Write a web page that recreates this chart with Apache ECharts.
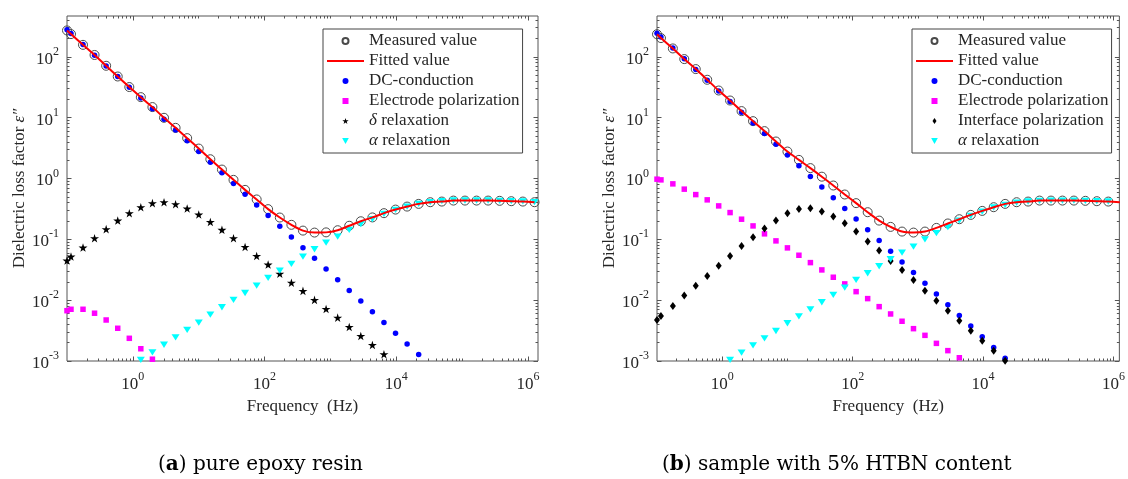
<!DOCTYPE html>
<html lang="en">
<head>
<meta charset="UTF-8">
<title>Dielectric loss factor</title>
<script src="https://cdn.jsdelivr.net/npm/echarts@6/dist/echarts.min.js"></script>
<style>html,body{margin:0;padding:0;background:#fff}</style>
</head>
<body>
<div id="main" style="width:1128px;height:479px;"></div>
<script>
// measurement frequencies (Hz)
var freq = [0.1, 0.115, 0.175, 0.262, 0.393, 0.589, 0.883, 1.32, 1.98, 2.97, 4.45, 6.67, 10, 15, 22.5, 33.7,
    50.5, 75.7, 113, 170, 255, 382, 572, 857, 1285, 1925, 2885, 4325, 6480, 9710, 14550, 21800, 32700, 49000,
    73400, 110000, 165000, 247000, 370000, 555000, 832000, 1250000];

// (a) pure epoxy resin
var measA = [271, 236, 157, 107, 71.1, 47.4, 31.8, 21.7, 14.9, 9.93, 6.79, 4.60, 3.10, 2.07, 1.40, 0.948, 0.649,
    0.452, 0.313, 0.228, 0.173, 0.139, 0.129, 0.130, 0.141, 0.167, 0.198, 0.229, 0.269, 0.308, 0.345, 0.382,
    0.407, 0.417, 0.433, 0.433, 0.433, 0.433, 0.429, 0.423, 0.417, 0.407];
var fitA = [271, 236, 157, 107, 71.1, 47.4, 31.8, 21.7, 14.9, 9.93, 6.79, 4.60, 3.10, 2.07, 1.40, 0.948, 0.649,
    0.452, 0.313, 0.228, 0.173, 0.139, 0.129, 0.130, 0.141, 0.167, 0.198, 0.229, 0.269, 0.308, 0.345, 0.382,
    0.407, 0.417, 0.433, 0.433, 0.433, 0.433, 0.429, 0.423, 0.417, 0.407];
var dcA = [278, 242, 159, 106, 70.7, 47.2, 31.5, 21.1, 14.0, 9.36, 6.25, 4.17, 2.78, 1.85, 1.24, 0.825, 0.550,
    0.367, 0.246, 0.164, 0.109, 0.0728, 0.0486, 0.0324, 0.0216, 0.0144, 0.00964, 0.00643, 0.00429, 0.00286,
    0.00191, 0.00128];
var epA = [0.00671, 0.00708, 0.00708, 0.0061, 0.00472, 0.00345, 0.00236, 0.00159, 0.00107];
var deltaA = [0.0447, 0.052, 0.0731, 0.104, 0.147, 0.203, 0.268, 0.337, 0.393, 0.407, 0.378, 0.32, 0.255, 0.193,
    0.143, 0.104, 0.075, 0.0533, 0.0384, 0.0273, 0.0194, 0.0142, 0.0101, 0.00716, 0.00516, 0.00362, 0.00258,
    0.00183, 0.00129];
var alphaA = [0.00104, 0.00139, 0.00185, 0.00245, 0.00324, 0.00427, 0.00578, 0.00764, 0.0101, 0.0131, 0.0173,
    0.0232, 0.0305, 0.0394, 0.052, 0.0687, 0.0883, 0.111, 0.143, 0.177, 0.214, 0.262, 0.305, 0.345, 0.382, 0.407,
    0.424, 0.434, 0.434, 0.434, 0.434, 0.428, 0.424, 0.419, 0.407];   // from freq[7]

// (b) sample with 5% HTBN
var measB = [235, 203, 137, 91.6, 62.7, 41.9, 27.9, 19.1, 12.8, 8.75, 6.0, 4.05, 2.77, 2.02, 1.48, 1.07, 0.766,
    0.545, 0.393, 0.279, 0.203, 0.160, 0.134, 0.129, 0.134, 0.154, 0.182, 0.214, 0.252, 0.293, 0.337, 0.382,
    0.407, 0.417, 0.433, 0.433, 0.433, 0.433, 0.429, 0.423, 0.417, 0.407];
var fitB = [235, 203, 137, 91.6, 62.7, 41.9, 27.9, 19.1, 12.8, 8.75, 6.0, 4.05, 2.77, 2.02, 1.48, 1.07, 0.766,
    0.545, 0.393, 0.279, 0.203, 0.160, 0.134, 0.129, 0.134, 0.154, 0.182, 0.214, 0.252, 0.293, 0.337, 0.382,
    0.407, 0.417, 0.433, 0.433, 0.433, 0.433, 0.429, 0.423, 0.417, 0.407];
var dcB = [243, 211, 139, 92.7, 61.8, 41.3, 27.5, 18.4, 12.3, 8.18, 5.46, 3.64, 2.43, 1.62, 1.08, 0.721, 0.481,
    0.321, 0.215, 0.143, 0.0953, 0.0636, 0.0425, 0.0284, 0.0189, 0.0126, 0.00842, 0.00562, 0.00375, 0.0025,
    0.00167, 0.00111];
var epB = [0.973, 0.948, 0.815, 0.667, 0.543, 0.445, 0.354, 0.275, 0.214, 0.166, 0.123, 0.0942, 0.0723, 0.0547,
    0.0414, 0.0314, 0.0238, 0.0185, 0.0138, 0.0106, 0.00782, 0.00593, 0.0045, 0.0034, 0.00264, 0.00195, 0.00148,
    0.00113];
var ipB = [0.00472, 0.0055, 0.00804, 0.0119, 0.0173, 0.025, 0.0366, 0.0533, 0.0778, 0.108, 0.15, 0.203, 0.268,
    0.316, 0.324, 0.286, 0.236, 0.184, 0.134, 0.0917, 0.0652, 0.0442, 0.0314, 0.0215, 0.0143, 0.0098, 0.00671,
    0.0046, 0.00315, 0.00216, 0.00148, 0.00101];
var alphaB = [0.00104, 0.00137, 0.00181, 0.00236, 0.00311, 0.00417, 0.00543, 0.00708, 0.00923, 0.0122, 0.0161,
    0.0215, 0.0277, 0.0361, 0.047, 0.0604, 0.0759, 0.1, 0.126, 0.158, 0.203, 0.243, 0.286, 0.333, 0.368, 0.402,
    0.418, 0.428, 0.433, 0.433, 0.433, 0.428, 0.424, 0.418, 0.407];   // from freq[7]

// tick labels (powers of ten)
var xLabelExp = [0, 2, 4, 6];
var yLabelExp = [-3, -2, -1, 0, 1, 2];

var FONT = 'Liberation Serif';
var TXT = '#262626';
var LINE = '#555';
var STAR = 'path://M50,0 L61,35 L98,35 L68,57 L79,91 L50,70 L21,91 L32,57 L2,35 L39,35 Z';
var TRI_DOWN = 'path://M0,0 L10,0 L5,9 Z';
var LINE_ICON = 'path://M0,0 H37 V2 H0 Z';

function lg(v) { return Math.log10(v); }

function pts(vals, start) {
    return vals.map(function (v, i) { return [lg(freq[start + i]), lg(v)]; });
}

// minor ticks 2..9 in each decade, plus the unlabelled decades
function minorTicks(lo, hi, majors) {
    var t = [];
    for (var n = Math.floor(lo); n <= Math.ceil(hi); n++) {
        for (var m = 1; m <= 9; m++) {
            var v = n + lg(m);
            if (v > lo && v < hi && majors.indexOf(v) < 0) t.push(v);
        }
    }
    return t;
}

var supRich = {
    b: {fontFamily: FONT, fontSize: 17, color: TXT, lineHeight: 22, verticalAlign: 'bottom'},
    s: {fontFamily: FONT, fontSize: 12, color: TXT, lineHeight: 10, verticalAlign: 'top'}
};
function supFmt(v) { return '{b|10}{s|' + Math.round(v) + '}'; }

function makeAxes(dim, grid, min, max, labels, main) {
    var minors = minorTicks(min, max, labels);
    var sides = dim === 'x' ? ['bottom', 'top'] : ['left', 'right'];
    var list = [];
    sides.forEach(function (pos, s) {
        [labels, minors].forEach(function (ticks, m) {
            var ax = {
                type: 'value', gridIndex: grid, position: pos, min: min, max: max,
                axisLine: {show: false, onZero: false}, splitLine: {show: false},
                axisTick: {show: true, inside: true, length: m ? 2.5 : 4.5, customValues: ticks,
                    lineStyle: {color: LINE, width: 1}},
                axisLabel: {show: false}
            };
            if (s === 0 && m === 0) {
                ax.axisLabel = {show: true, customValues: labels, margin: dim === 'x' ? 10 : 8,
                    formatter: supFmt, rich: supRich};
                for (var k in main) ax[k] = main[k];
            }
            list.push(ax);
        });
    });
    return list;
}

var nameStyle = {fontFamily: FONT, fontSize: 17, color: TXT,
    rich: {i: {fontFamily: FONT, fontSize: 17, fontStyle: 'italic', color: TXT}}};
var xMain = {name: 'Frequency  (Hz)', nameLocation: 'middle', nameGap: 35, nameTextStyle: nameStyle};
var yMain = {name: 'Dielectric loss factor {i|ε″}', nameLocation: 'middle', nameGap: 38, nameTextStyle: nameStyle};

var xAxes = makeAxes('x', 0, -1, 6.15, xLabelExp, xMain).concat(makeAxes('x', 1, -1, 6.09, xLabelExp, xMain));
var yAxes = makeAxes('y', 0, -3, 2.67, yLabelExp, yMain).concat(makeAxes('y', 1, -3, 2.67, yLabelExp, yMain));

function measured(grid, vals) {
    return {name: 'Measured value', type: 'scatter', xAxisIndex: grid * 4, yAxisIndex: grid * 4,
        data: pts(vals, 0), symbol: 'circle', symbolSize: 9, symbolKeepAspect: true,
        itemStyle: {color: 'rgba(255,255,255,0)', borderColor: '#4a4a4a', borderWidth: 1, opacity: 1}};
}
function fitted(grid, vals) {
    return {name: 'Fitted value', type: 'line', xAxisIndex: grid * 4, yAxisIndex: grid * 4,
        data: pts(vals, 0), symbol: 'none', smooth: 0.3,
        lineStyle: {color: '#ff0000', width: 2}, itemStyle: {color: '#ff0000'}};
}
function dots(grid, name, vals, start, symbol, size, color) {
    return {name: name, type: 'scatter', xAxisIndex: grid * 4, yAxisIndex: grid * 4,
        data: pts(vals, start), symbol: symbol, symbolSize: size, symbolKeepAspect: true,
        itemStyle: {color: color, opacity: 1}};
}

var series = [
    measured(0, measA), fitted(0, fitA),
    dots(0, 'DC-conduction', dcA, 0, 'circle', 5.5, '#0000ff'),
    dots(0, 'Electrode polarization', epA, 0, 'rect', 5.5, '#ff00ff'),
    dots(0, 'δ relaxation', deltaA, 0, STAR, 9, '#000000'),
    dots(0, 'α relaxation', alphaA, 7, TRI_DOWN, [8, 7], '#00ffff'),
    measured(1, measB), fitted(1, fitB),
    dots(1, 'DC-conduction', dcB, 0, 'circle', 5.5, '#0000ff'),
    dots(1, 'Electrode polarization', epB, 0, 'rect', 5.5, '#ff00ff'),
    dots(1, 'Interface polarization', ipB, 0, 'diamond', [6, 8], '#000000'),
    dots(1, 'α relaxation', alphaB, 7, TRI_DOWN, [8, 7], '#00ffff')
];

function legendBox(left, names) {
    return {
        left: left, top: 29, orient: 'vertical', itemWidth: 37, itemHeight: 6, itemGap: 3,
        padding: [3.5, 3, 3.5, 4], backgroundColor: '#fff', borderColor: '#444', borderWidth: 1,
        selectedMode: false, symbolKeepAspect: true,
        data: names.map(function (n) {
            if (n === 'Fitted value') return {name: n, icon: LINE_ICON};
            if (n === 'Electrode polarization') return {name: n, icon: 'path://M0,0 H10 V10 H0 Z'};
            if (n === 'Interface polarization') return {name: n, icon: 'path://M4,0 L8,6 L4,12 L0,6 Z'};
            return n;
        }),
        formatter: function (n) { return n.replace(/^(δ|α) /, '{i|$1} '); },
        textStyle: {fontFamily: FONT, fontSize: 17, color: TXT, lineHeight: 17,
            rich: {i: {fontFamily: FONT, fontSize: 17, fontStyle: 'italic', color: TXT, lineHeight: 17}}}
    };
}

var capStyle = {fontFamily: 'DejaVu Serif', fontSize: 20, fontWeight: 'normal', color: '#000',
    rich: {b: {fontFamily: 'DejaVu Serif', fontSize: 20, fontWeight: 'bold', color: '#000'}}};

var chart = echarts.init(document.getElementById('main'));
chart.setOption({
    animation: false,
    backgroundColor: '#fff',
    title: [
        {text: '({b|a}) pure epoxy resin', left: 158, top: 455, padding: 0, textStyle: capStyle},
        {text: '({b|b}) sample with 5% HTBN content', left: 662, top: 455, padding: 0, textStyle: capStyle}
    ],
    grid: [
        {left: 67, top: 16, width: 471, height: 345, show: true, borderColor: LINE, borderWidth: 1},
        {left: 657, top: 16, width: 466, height: 345, show: true, borderColor: LINE, borderWidth: 1}
    ],
    legend: [
        legendBox(323, ['Measured value', 'Fitted value', 'DC-conduction', 'Electrode polarization',
            'δ relaxation', 'α relaxation']),
        legendBox(912, ['Measured value', 'Fitted value', 'DC-conduction', 'Electrode polarization',
            'Interface polarization', 'α relaxation'])
    ],
    xAxis: xAxes,
    yAxis: yAxes,
    series: series
});
</script>
</body>
</html>
